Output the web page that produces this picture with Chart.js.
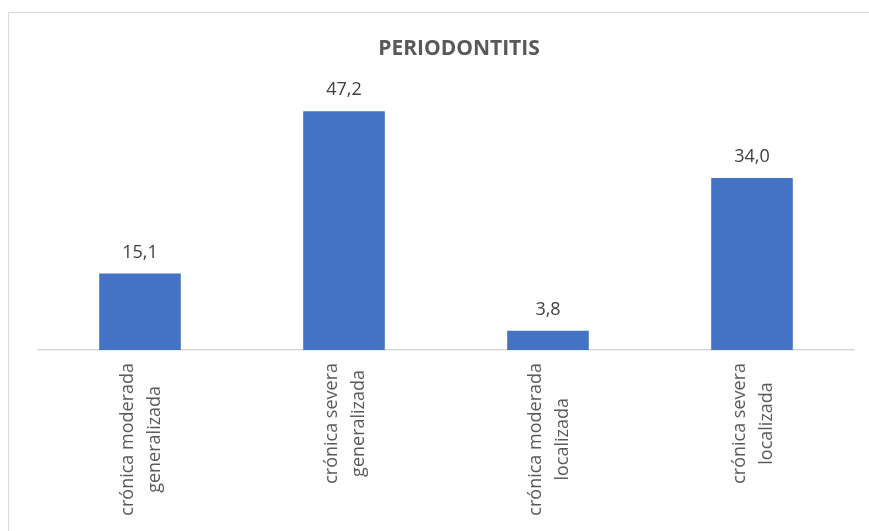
<!DOCTYPE html>
<html>
<head>
<meta charset="utf-8">
<script src="https://cdn.jsdelivr.net/npm/chart.js@4.4.1/dist/chart.umd.min.js"></script>
<style>
    html, body { margin: 0; padding: 0; background: #ffffff; overflow: hidden; }
    #frame {
        position: absolute;
        left: 8px;
        top: 12px;
        width: 900px;
        height: 560px;
        border: 1.5px solid #d9d9d9;
        background: #ffffff;
    }
</style>
</head>
<body>
<div id="frame"><canvas id="chart"></canvas></div>
<script>
// Chart data
const categories = [
    ['crónica moderada', 'generalizada'],
    ['crónica severa', 'generalizada'],
    ['crónica moderada', 'localizada'],
    ['crónica severa', 'localizada']
];
const values = [15.1, 47.2, 3.8, 34.0];
const chartTitle = 'PERIODONTITIS';
const yMin = 0;
const yMax = 50;

const FONT = '"Open Sans", "Noto Sans", sans-serif';

// title centred on the whole chart frame (Excel style), not the plot area
const frameTitle = {
    id: 'frameTitle',
    afterDraw(chart) {
        const ctx = chart.ctx;
        ctx.save();
        ctx.font = 'bold 21px ' + FONT;
        ctx.fillStyle = '#595959';
        ctx.textAlign = 'center';
        ctx.textBaseline = 'middle';
        ctx.fillText(chartTitle, chart.width / 2, 36);
        ctx.restore();
    }
};

// value labels above bars, comma decimal
const barLabels = {
    id: 'barLabels',
    afterDatasetsDraw(chart) {
        const ctx = chart.ctx;
        const meta = chart.getDatasetMeta(0);
        ctx.save();
        ctx.font = '18px ' + FONT;
        ctx.fillStyle = '#404040';
        ctx.textAlign = 'center';
        ctx.textBaseline = 'alphabetic';
        meta.data.forEach((bar, i) => {
            const txt = values[i].toFixed(1).replace('.', ',');
            ctx.fillText(txt, bar.x, bar.y - 16);
        });
        ctx.restore();
    }
};

// vertical category labels, lines centred on each other
const verticalTicks = {
    id: 'verticalTicks',
    afterDraw(chart) {
        const ctx = chart.ctx;
        const xScale = chart.scales.x;
        const axisY = chart.chartArea.bottom;
        ctx.save();
        ctx.font = '18px ' + FONT;
        ctx.fillStyle = '#595959';
        ctx.textAlign = 'center';
        ctx.textBaseline = 'middle';
        categories.forEach((lines, i) => {
            const x = xScale.getPixelForValue(i);
            const maxW = Math.max(...lines.map(l => ctx.measureText(l).width));
            const cy = axisY + 13 + maxW / 2;
            ctx.save();
            ctx.translate(x, cy);
            ctx.rotate(-Math.PI / 2);
            lines.forEach((line, j) => {
                const off = (j - (lines.length - 1) / 2) * 27 + 1;
                ctx.fillText(line, 0, off);
            });
            ctx.restore();
        });
        ctx.restore();
    }
};

new Chart(document.getElementById('chart'), {
    type: 'bar',
    data: {
        labels: categories,
        datasets: [{
            data: values,
            backgroundColor: '#4472C4',
            borderWidth: 0,
            barPercentage: 0.4,
            categoryPercentage: 1.0
        }]
    },
    options: {
        responsive: true,
        maintainAspectRatio: false,
        animation: false,
        layout: {
            padding: { left: 29, right: 55, top: 84, bottom: 223 }
        },
        plugins: {
            legend: { display: false },
            tooltip: { enabled: false },
            title: { display: false }
        },
        scales: {
            x: {
                grid: { display: false, drawTicks: false },
                border: { display: true, color: '#d9d9d9', width: 1.5 },
                ticks: { display: false }
            },
            y: {
                display: false,
                min: yMin,
                max: yMax
            }
        }
    },
    plugins: [barLabels, verticalTicks, frameTitle]
});
</script>
</body>
</html>
